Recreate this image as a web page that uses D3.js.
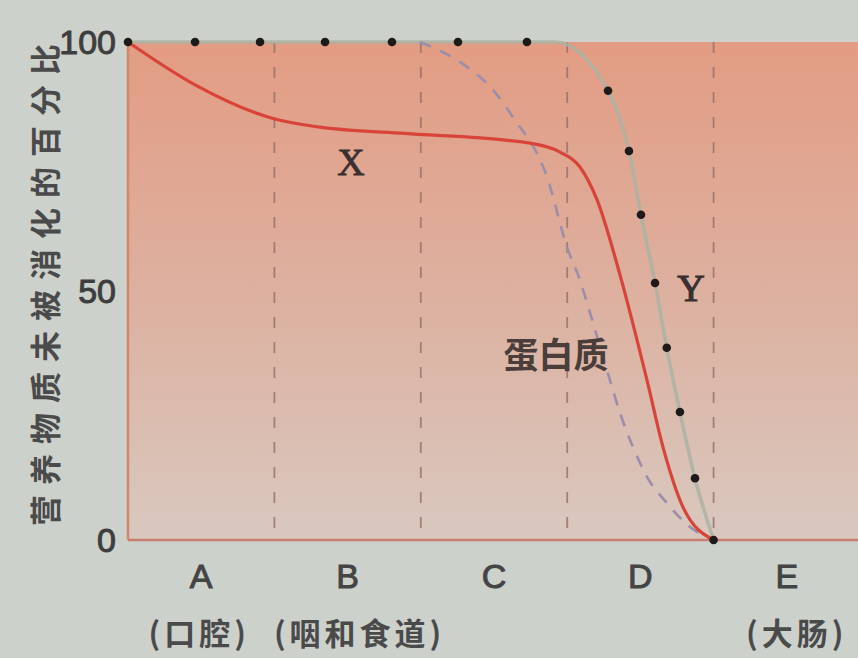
<!DOCTYPE html>
<html><head><meta charset="utf-8">
<script src="https://cdn.jsdelivr.net/npm/d3@7"></script>
<style>
html,body{margin:0;padding:0;background:#cdd1cb;}
svg{display:block;}
text{font-family:"Noto Sans CJK SC","Liberation Sans",sans-serif;fill:#3a3a3a;}
</style></head><body>
<svg id="c" width="858" height="658"></svg>
<script>
// ---- data ----
const sections = ["A","B","C","D","E"];
const organs = ["(口腔)","(咽和食道)","","","(大肠)"];
const organShift = [-2,12,0,0,10];
const boundaries = [1,2,3,4];
const yTicks = [0,50,100];
const yTitle = "营养物质未被消化的百分比";
// X (red solid)
const xCurveX = [0,0.458,0.984,1.311,1.858,2.746,2.951,3.087,3.204,3.361,3.545,3.654,3.791,4.0];
const xCurveY = [100,91.4,84.7,82.9,81.7,79.7,77.9,74.9,68.3,53.2,32.1,18.7,6.6,0];
// Y (dots)
const yDotsX = [0,0.458,0.902,1.346,1.803,2.254,2.725,3.279,3.422,3.504,3.6,3.68,3.77,3.873,4.0];
const yDotsY = [100,100,100,100,100,100,100,90.2,78.1,65.3,51.6,38.6,25.7,12.4,0];
// Y faint line
const yLineX = [0,2.725,2.92,3.279,3.422,3.504,3.6,3.68,3.77,3.873,4.0];
const yLineY = [100,100,100,90.2,78.1,65.3,51.6,38.6,25.7,12.4,0];
// protein (dashed)
const protX = [1.995,2.316,2.493,2.63,2.862,2.999,3.087,3.156,3.292,3.361,3.449,3.545,3.682,3.839,4.0];
const protY = [100,95,90.4,84.9,72.9,58.8,52.2,45.6,32.1,25.5,18.7,12.7,7.4,2.6,0];

// ---- chart ----
const svg = d3.select("#c");
const x = d3.scaleLinear().domain([0,5]).range([128,860]);
const y = d3.scaleLinear().domain([0,100]).range([540,42]);

const defs = svg.append("defs");
const g = defs.append("linearGradient").attr("id","bg").attr("x1",0).attr("y1",0).attr("x2",0).attr("y2",1);
g.append("stop").attr("offset","0%").attr("stop-color","#e39c83");
g.append("stop").attr("offset","50%").attr("stop-color","#ddb09f");
g.append("stop").attr("offset","100%").attr("stop-color","#d9c8bf");

svg.append("rect").attr("x",x(0)).attr("y",y(100)).attr("width",x(5)-x(0)).attr("height",y(0)-y(100)).attr("fill","url(#bg)");

// boundaries
svg.selectAll(".bd").data(boundaries).join("line")
  .attr("x1",d=>x(d)).attr("x2",d=>x(d)).attr("y1",y(100)).attr("y2",y(0))
  .attr("stroke","#94706a").attr("stroke-width",1.8).attr("stroke-dasharray","11,14").attr("opacity",0.8);

// axes
svg.append("line").attr("x1",x(0)).attr("x2",x(0)).attr("y1",y(100)).attr("y2",y(0)).attr("stroke","#d3876c").attr("stroke-width",2.5);
svg.append("line").attr("x1",x(0)).attr("x2",858).attr("y1",y(0)).attr("y2",y(0)).attr("stroke","#c97f70").attr("stroke-width",2.5);

const line = d3.line().x(d=>x(d[0])).y(d=>y(d[1])).curve(d3.curveMonotoneX);
const zip = (a,b)=>a.map((v,i)=>[v,b[i]]);

// Y faint line
svg.append("path").attr("d",line(zip(yLineX,yLineY))).attr("fill","none").attr("stroke","#aab3a3").attr("stroke-width",3.5).attr("opacity",0.85);
// protein dashed
svg.append("path").attr("d",line(zip(protX,protY))).attr("fill","none").attr("stroke","#9c8eaa").attr("stroke-width",2.6).attr("stroke-dasharray","12,10");
// X red
svg.append("path").attr("d",line(zip(xCurveX,xCurveY))).attr("fill","none").attr("stroke","#d8433a").attr("stroke-width",3.2);
// Y dots
svg.selectAll(".dot").data(zip(yDotsX,yDotsY)).join("circle")
  .attr("cx",d=>x(d[0])).attr("cy",d=>y(d[1])).attr("r",4.3).attr("fill","#1e1a1a");

const latin = "'Liberation Sans', Arial, sans-serif";
// tick labels
svg.selectAll(".yt").data(yTicks).join("text")
  .attr("x",116).attr("y",d=>y(d)).attr("dy","0.36em").attr("text-anchor","end")
  .attr("font-size",34).style("font-family",latin).style("fill","#3e3e3e")
  .style("stroke","#3e3e3e").style("stroke-width",1)
  .text(d=>d);

// y title
svg.append("text").attr("transform","translate(46,280) rotate(-90)").attr("text-anchor","middle").attr("dy","0.35em")
  .attr("font-size",31).attr("font-weight","bold").attr("letter-spacing","10px").style("fill","#4a4a4a").text(yTitle);

// section labels
svg.selectAll(".sec").data(sections).join("text")
  .attr("x",(d,i)=>x(i+0.5)).attr("y",576).attr("dy","0.36em").attr("text-anchor","middle")
  .attr("font-size",34).style("font-family",latin).style("fill","#444")
  .style("stroke","#444").style("stroke-width",1).text(d=>d);
svg.selectAll(".org").data(organs).join("text")
  .attr("x",(d,i)=>x(i+0.5)+organShift[i]).attr("y",634).attr("dy","0.36em").attr("text-anchor","middle")
  .attr("font-size",31).attr("font-weight","bold").attr("letter-spacing","4px").style("fill","#4a4a4a").text(d=>d);

// curve labels
const serif = "'Liberation Serif', 'Times New Roman', serif";
svg.append("text").attr("x",351).attr("y",162).attr("dy","0.35em").attr("text-anchor","middle").attr("font-size",38).style("font-family",serif).style("fill","#3a3030").style("stroke","#3a3030").style("stroke-width",0.8).text("X");
svg.append("text").attr("x",691).attr("y",288).attr("dy","0.35em").attr("text-anchor","middle").attr("font-size",38).style("font-family",serif).style("fill","#3a3030").style("stroke","#3a3030").style("stroke-width",1.2).text("Y");
svg.append("text").attr("x",556).attr("y",355).attr("dy","0.36em").attr("text-anchor","middle").attr("font-size",35).attr("font-weight","bold").style("fill","#4a3d3a").text("蛋白质");
</script>
</body></html>
